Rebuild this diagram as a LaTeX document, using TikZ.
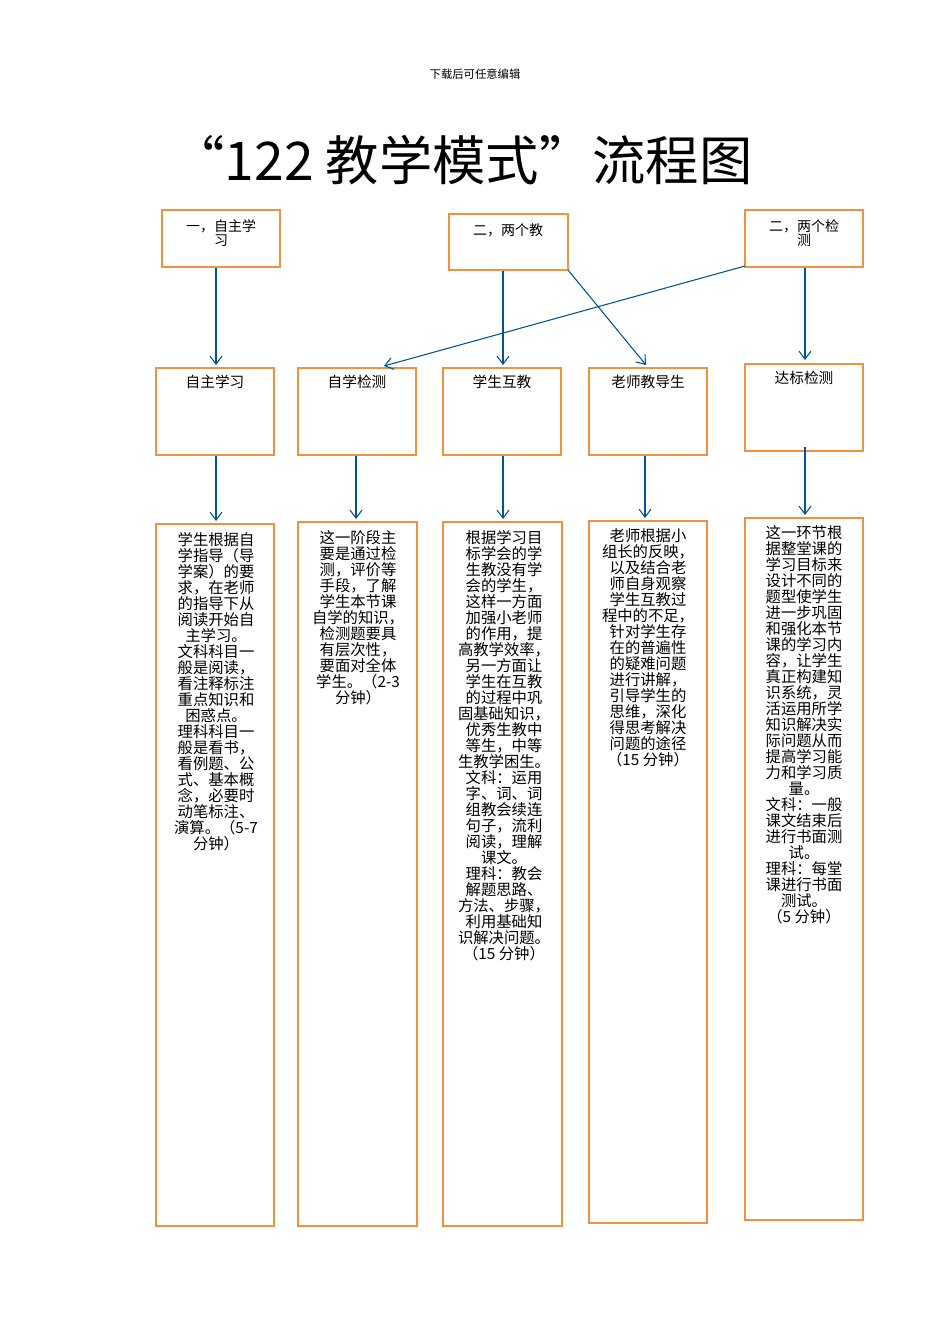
\documentclass[tikz,border=0pt]{standalone}
\usepackage{fontspec}
\setmainfont{Liberation Sans}
\newfontfamily\cjk{Noto Sans CJK SC}
\usetikzlibrary{arrows.meta}
\begin{document}
\begin{tikzpicture}[x=0.75pt,y=-0.75pt,
  box/.style={draw=orange!80!brown!70!yellow,line width=2.2pt},
  arr/.style={draw=blue!45!cyan!60!black,line width=0.8pt,-{Straight Barb[length=6pt,width=9pt]}},
  txt/.style={font=\cjk\fontsize{11.5}{12}\selectfont,align=center,anchor=north,inner sep=0pt},
  lab/.style={font=\cjk\fontsize{10.5}{11}\selectfont,align=center,anchor=north,inner sep=0pt}]
\definecolor{ob}{HTML}{F0923E}
\tikzset{box/.style={draw=ob,line width=2.2pt}}
\useasboundingbox (0,0) rectangle (950,1344);
\node[font=\cjk\fontsize{8.5}{10}\selectfont] (hd) at (475,74) {下载后可任意编辑};
\node[font=\cjk\fontsize{40}{44}\selectfont] (tt) at (462,160) {“122 教学模式”流程图};
% top boxes
\draw[box] (162,210) rectangle (280,267); \coordinate (A) at (221,210);
\draw[box] (449,214) rectangle (568,270);
\draw[box] (745,210) rectangle (863,267);
\node[lab] (a) at (221,219) {一，自主学\\习};
\node[lab] (b) at (508,223) {二，两个教};
\node[lab] (c) at (804,219) {二，两个检\\测};
% middle boxes
\foreach \x/\y/\t [count=\i] in {156/368/自主学习,298/368/自学检测,443/368/学生互教,589/368/老师教导生,745/364/达标检测}{
  \draw[box] (\x,\y) rectangle ++(118,87);
  \node[lab,font=\cjk\fontsize{11}{12}\selectfont] (m\i) at (\x+59,\y+7) {\t};
}
% bottom boxes
\draw[box] (156,524) rectangle (274,1226);
\draw[box] (298,522) rectangle (417,1226);
\draw[box] (443,522) rectangle (562,1226);
\draw[box] (589,521) rectangle (707,1223);
\draw[box] (745,518) rectangle (863,1220);
\node[txt] (t1) at (216,532) {学生根据自\\学指导（导\\学案）的要\\求，在老师\\的指导下从\\阅读开始自\\主学习。\\文科科目一\\般是阅读，\\看注释标注\\重点知识和\\困惑点。\\理科科目一\\般是看书，\\看例题、公\\式、基本概\\念，必要时\\动笔标注、\\演算。（5-7\\分钟）};
\node[txt] (t2) at (358,530) {这一阶段主\\要是通过检\\测，评价等\\手段，了解\\学生本节课\\自学的知识，\\检测题要具\\有层次性，\\要面对全体\\学生。（2-3\\分钟）};
\node[txt] (t3) at (504,530) {根据学习目\\标学会的学\\生教没有学\\会的学生，\\这样一方面\\加强小老师\\的作用，提\\高教学效率，\\另一方面让\\学生在互教\\的过程中巩\\固基础知识，\\优秀生教中\\等生，中等\\生教学困生。\\文科：运用\\字、词、词\\组教会续连\\句子，流利\\阅读，理解\\课文。\\理科：教会\\解题思路、\\方法、步骤，\\利用基础知\\识解决问题。\\（15 分钟）};
\node[txt] (t4) at (648,528) {老师根据小\\组长的反映，\\以及结合老\\师自身观察\\学生互教过\\程中的不足，\\针对学生存\\在的普遍性\\的疑难问题\\进行讲解，\\引导学生的\\思维，深化\\得思考解决\\问题的途径\\（15 分钟）};
\node[txt] (t5) at (804,525) {这一环节根\\据整堂课的\\学习目标来\\设计不同的\\题型使学生\\进一步巩固\\和强化本节\\课的学习内\\容，让学生\\真正构建知\\识系统，灵\\活运用所学\\知识解决实\\际问题从而\\提高学习能\\力和学习质\\量。\\文科：一般\\课文结束后\\进行书面测\\试。\\理科：每堂\\课进行书面\\测试。\\（5 分钟）};
% arrows
\coordinate (s1) at (216,268); \coordinate (e1) at (216,365);
\coordinate (s2) at (503,271); \coordinate (e2) at (503,365);
\coordinate (s3) at (568,270); \coordinate (e3) at (646,365);
\coordinate (s4) at (805,268); \coordinate (e4) at (805,360);
\coordinate (s5) at (745,266); \coordinate (e5) at (384,366);
\foreach \i in {1,...,5} \draw[arr] (s\i) -- (e\i);
\foreach \x/\a/\b in {216/456/521,356/456/519,503/456/519,645/456/518,805/447/515}
  \draw[arr] (\x,\a) -- (\x,\b);
\end{tikzpicture}
\end{document}
